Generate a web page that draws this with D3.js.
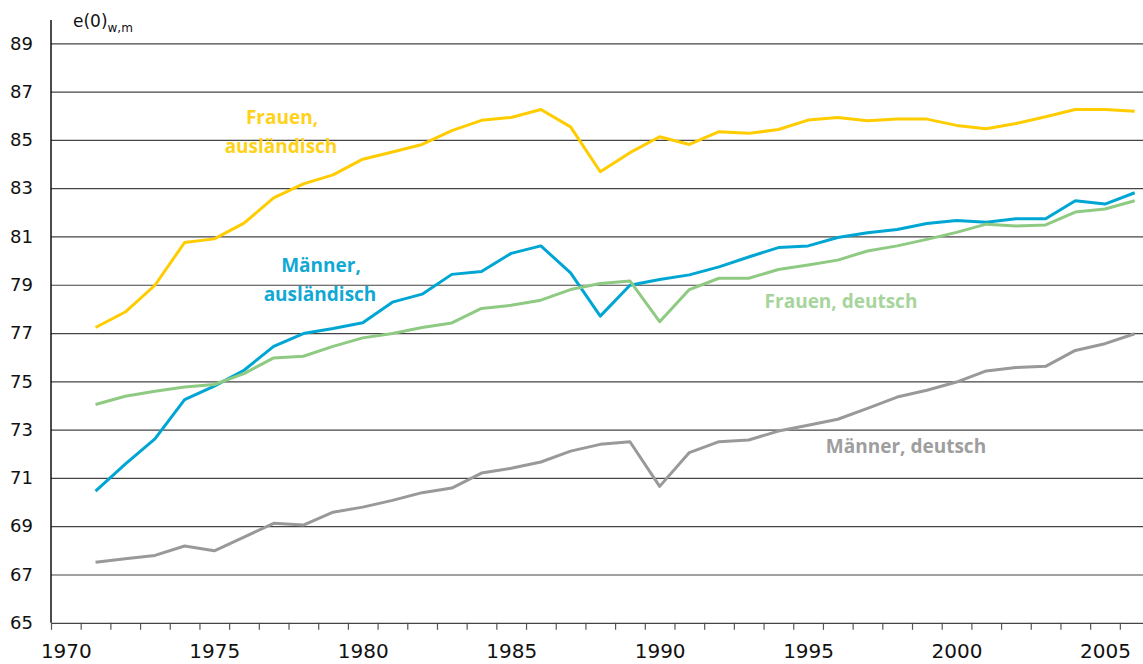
<!DOCTYPE html>
<html>
<head>
<meta charset="utf-8">
<script src="https://cdn.jsdelivr.net/npm/d3@7"></script>
<style>
  body { margin: 0; background: #fff; }
  svg { display: block; }
</style>
</head>
<body>
<svg id="chart" width="1143" height="664"></svg>
<script>
const svg = d3.select('#chart')
const width = 1143
const height = 664

const left = 51
const yTop = 43.3
const yBottom = 622.8
const gridColor = '#444'
const tickFont = '"DejaVu Sans", sans-serif'
const labelFont = '"Open Sans", sans-serif'

// Jahre 1971 - 2006
const years = [1971, 1972, 1973, 1974, 1975, 1976, 1977, 1978, 1979, 1980,
	1981, 1982, 1983, 1984, 1985, 1986, 1987, 1988, 1989, 1990,
	1991, 1992, 1993, 1994, 1995, 1996, 1997, 1998, 1999, 2000,
	2001, 2002, 2003, 2004, 2005, 2006]

const frauenAusl = [77.23, 77.87, 78.98, 80.75, 80.90, 81.55, 82.60, 83.18, 83.55, 84.20,
	84.50, 84.81, 85.38, 85.81, 85.93, 86.26, 85.54, 83.68, 84.47, 85.13,
	84.81, 85.34, 85.27, 85.43, 85.82, 85.93, 85.79, 85.86, 85.86, 85.60,
	85.46, 85.68, 85.96, 86.26, 86.26, 86.19]

const maennerAusl = [70.45, 71.57, 72.62, 74.24, 74.80, 75.46, 76.45, 76.98, 77.19, 77.43,
	78.28, 78.61, 79.43, 79.55, 80.30, 80.61, 79.49, 77.70, 78.98, 79.22,
	79.41, 79.74, 80.15, 80.54, 80.61, 80.96, 81.15, 81.29, 81.54, 81.66,
	81.59, 81.73, 81.73, 82.48, 82.34, 82.81]

const frauenDt = [74.04, 74.38, 74.59, 74.77, 74.87, 75.32, 75.97, 76.04, 76.45, 76.80,
	76.98, 77.23, 77.42, 78.02, 78.15, 78.36, 78.80, 79.05, 79.16, 77.47,
	78.80, 79.27, 79.27, 79.63, 79.82, 80.02, 80.40, 80.61, 80.88, 81.17,
	81.51, 81.43, 81.48, 82.01, 82.14, 82.48]

const maennerDt = [67.51, 67.65, 67.79, 68.18, 67.98, 68.55, 69.12, 69.05, 69.58, 69.79,
	70.07, 70.39, 70.58, 71.20, 71.40, 71.66, 72.11, 72.39, 72.50, 70.65,
	72.05, 72.50, 72.57, 72.94, 73.18, 73.43, 73.88, 74.35, 74.63, 74.97,
	75.43, 75.57, 75.62, 76.28, 76.56, 76.97]

const yTicks = [65, 67, 69, 71, 73, 75, 77, 79, 81, 83, 85, 87, 89]
const xLabels = [1970, 1975, 1980, 1985, 1990, 1995, 2000, 2005]
const xTickYears = [1970, 1971, 1972, 1973, 1974, 1975, 1976, 1977, 1978, 1979,
	1980, 1981, 1982, 1983, 1984, 1985, 1986, 1987, 1988, 1989,
	1990, 1991, 1992, 1993, 1994, 1995, 1996, 1997, 1998, 1999,
	2000, 2001, 2002, 2003, 2004, 2005, 2006, 2007]

const series = [
	{ name: ['Frauen,', 'ausländisch'], values: frauenAusl, color: '#FFCC00', labelColor: '#FFD21A', lx: 282, ly: 124 },
	{ name: ['Männer,', 'ausländisch'], values: maennerAusl, color: '#00A6D3', labelColor: '#12A8D5', lx: 321, ly: 272 },
	{ name: ['Frauen, deutsch'], values: frauenDt, color: '#8FCA83', labelColor: '#A6D59B', lx: 841, ly: 308 },
	{ name: ['Männer, deutsch'], values: maennerDt, color: '#999999', labelColor: '#9E9E9E', lx: 906, ly: 453 }
]

// jedes Jahr ist ein Band, Punkte in der Mitte
const xScale = d3.scaleLinear()
	.domain([1970, 2007])
	.range([left, left + 37 * 29.69])

const yScale = d3.scaleLinear()
	.domain([65, 89])
	.range([yBottom, yTop])

// Gitter + y-Beschriftung
const yAxis = d3.axisLeft(yScale)
	.tickValues(yTicks)
	.tickSize(-(width - left))
	.tickPadding(18)

const yG = svg.append('g')
	.attr('transform', `translate(${left}, 0)`)
	.call(yAxis)

yG.select('path.domain').remove()
yG.selectAll('.tick line')
	.style('stroke', gridColor)
	.style('stroke-width', 1.2)
yG.selectAll('.tick text')
	.style('font-family', tickFont)
	.style('font-size', '18px')
	.style('fill', '#111')

// x-Ticks an den Bandgrenzen
const xTickAxis = d3.axisBottom(xScale)
	.tickValues(xTickYears)
	.tickFormat('')
	.tickSize(7)

const xG = svg.append('g')
	.attr('transform', `translate(0, ${yBottom})`)
	.call(xTickAxis)

xG.select('path.domain').remove()
xG.selectAll('.tick line')
	.style('stroke', '#555')
	.style('stroke-width', 1.2)

// x-Beschriftung in der Bandmitte
const xLabelAxis = d3.axisBottom(xScale)
	.tickValues(xLabels.map(d => d + 0.5))
	.tickFormat(d => Math.floor(d))
	.tickSize(0)
	.tickPadding(21.5)

const xL = svg.append('g')
	.attr('transform', `translate(0, ${yBottom})`)
	.call(xLabelAxis)

xL.select('path.domain').remove()
xL.selectAll('.tick text')
	.style('font-family', tickFont)
	.style('font-size', '20px')
	.style('fill', '#111')

// y-Achsenlinie
svg.append('line')
	.attr('x1', left)
	.attr('x2', left)
	.attr('y1', 20)
	.attr('y2', yBottom)
	.attr('stroke', '#111')
	.attr('stroke-width', 1.5)

// Achsentitel e(0)w,m
const title = svg.append('text')
	.attr('x', 73)
	.attr('y', 27)
	.style('font-family', tickFont)
	.style('font-size', '17px')
	.style('fill', '#111')
title.append('tspan').text('e(0)')
title.append('tspan')
	.attr('dy', 5)
	.style('font-size', '12px')
	.text('w,m')

// Linien
const line = d3.line()
	.x((d, i) => xScale(years[i] + 0.5))
	.y(d => yScale(d))

series.forEach(s => {
	svg.append('path')
		.datum(s.values)
		.attr('fill', 'none')
		.attr('stroke', s.color)
		.attr('stroke-width', 3)
		.attr('stroke-linejoin', 'round')
		.attr('d', line)

	const t = svg.append('text')
		.attr('text-anchor', 'middle')
		.style('font-family', labelFont)
		.style('font-weight', 'bold')
		.style('font-size', '19px')
		.style('fill', s.labelColor)

	s.name.forEach((n, i) => {
		t.append('tspan')
			.attr('x', s.lx - (i > 0 ? 1 : 0))
			.attr('y', s.ly + i * 29)
			.text(n)
	})
})
</script>
</body>
</html>
